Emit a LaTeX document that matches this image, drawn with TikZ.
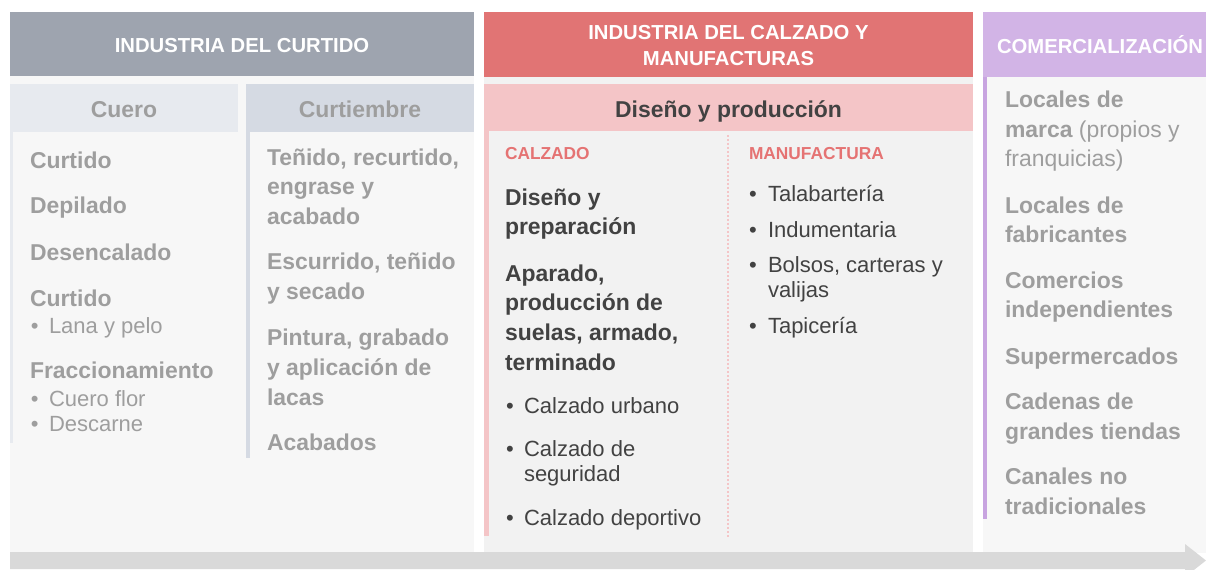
\documentclass[tikz,border=0pt]{standalone}
\usepackage{fontspec}
\setmainfont{Liberation Sans}
\definecolor{hdrgray}{HTML}{9EA4AF}
\definecolor{cuerosub}{HTML}{E7EAEF}
\definecolor{curtsub}{HTML}{D5DAE3}
\definecolor{lightbg}{HTML}{F7F7F7}
\definecolor{midbg}{HTML}{F2F2F2}
\definecolor{redhdr}{HTML}{E17474}
\definecolor{pinksub}{HTML}{F4C5C7}
\definecolor{pinktxt}{HTML}{E57373}
\definecolor{purplehdr}{HTML}{D2B4E6}
\definecolor{purplestrip}{HTML}{C8A4E0}
\definecolor{txtgray}{HTML}{9E9E9E}
\definecolor{txtdark}{HTML}{424242}
\definecolor{arrowgray}{HTML}{D9D9D9}
\tikzset{
  txt/.style={inner sep=0pt, outer sep=0pt},
  hdrtxt/.style={txt, text=white, align=center, anchor=base, font=\fontsize{15.2}{20}\selectfont\bfseries},
  subtxt/.style={txt, anchor=base, font=\fontsize{17.2}{20}\selectfont\bfseries},
  itemg/.style={txt, anchor=base west, align=left, text=txtgray, font=\fontsize{17.2}{22.2}\selectfont\bfseries},
  itemd/.style={txt, anchor=base west, align=left, text=txtdark, font=\fontsize{17.2}{22.2}\selectfont\bfseries},
  bulg/.style={txt, anchor=base west, align=left, text=txtgray, font=\fontsize{16.5}{18.8}\selectfont},
  buld/.style={txt, anchor=base west, align=left, text=txtdark, font=\fontsize{16.5}{18.8}\selectfont},
  lbl/.style={txt, anchor=base west, text=pinktxt, font=\fontsize{13}{15}\selectfont\bfseries},
}
\begin{document}
\begin{tikzpicture}[x=0.75pt,y=-0.75pt]
\useasboundingbox (0,0) rectangle (1206,570);
% panel backgrounds
\fill[lightbg] (10,76) rectangle (474,553);
\fill[midbg] (484,77) rectangle (973,553);
\fill[lightbg] (983,77) rectangle (1206,553);
% headers
\fill[hdrgray] (10,12) rectangle (474,76);
\fill[redhdr] (484,12) rectangle (973,77);
\fill[purplehdr] (983,12) rectangle (1206,77);
\node[hdrtxt] (h1) at (242,52.3) {INDUSTRIA DEL CURTIDO};
\node[hdrtxt] (h2) at (728.5,66) {INDUSTRIA DEL CALZADO Y\\MANUFACTURAS};
\node[hdrtxt, anchor=base west] (h3) at (997,53.3) {COMERCIALIZACIÓN};
% sub headers
\fill[cuerosub] (10,84) rectangle (238,132);
\fill[curtsub] (246,84) rectangle (474,132);
\fill[cuerosub] (10,132) rectangle (13,443);
\fill[curtsub] (246,132) rectangle (250,458);
\node[subtxt, text=txtgray] (s1) at (124,117.3) {Cuero};
\node[subtxt, text=txtgray] (s2) at (360,117.3) {Curtiembre};
\fill[pinksub] (484,84) rectangle (973,131);
\fill[pinksub] (484,131) rectangle (489,536);
\node[subtxt, text=txtdark] (s3) at (728.5,117.3) {Diseño y producción};
\draw[pinksub, line width=0.8pt, dash pattern=on 1.5pt off 1.5pt] (728,135) -- (728,537);
\fill[purplestrip] (983,77) rectangle (987,519);
% left column: Cuero
\node[itemg] (a1) at (30,168.3) {Curtido};
\node[itemg] (a2) at (30,213.3) {Depilado};
\node[itemg] (a3) at (30,260.7) {Desencalado};
\node[itemg] (a4) at (30,306.7) {Curtido};
\node[bulg] (a4b) at (31,333.3) {•};
\node[bulg] (a4t) at (49,333.3) {Lana y pelo};
\node[itemg] (a5) at (30,378.3) {Fraccionamiento};
\node[bulg] (a5b1) at (31,406) {•};
\node[bulg] (a5t1) at (49,406) {Cuero flor};
\node[bulg] (a5b2) at (31,431.7) {•};
\node[bulg] (a5t2) at (49,431.7) {Descarne};
% Curtiembre (anchored at last line baseline)
\node[itemg] (b1) at (267,224.3) {Teñido, recurtido,\\engrase y\\acabado};
\node[itemg] (b2) at (267,299.3) {Escurrido, teñido\\y secado};
\node[itemg] (b3) at (267,405) {Pintura, grabado\\y aplicación de\\lacas};
\node[itemg] (b4) at (267,450.7) {Acabados};
% Calzado
\node[lbl] (l1) at (505,160) {CALZADO};
\node[lbl] (l2) at (749,160) {MANUFACTURA};
\node[itemd] (c1) at (505,235) {Diseño y\\preparación};
\node[itemd] (c2) at (505,370) {Aparado,\\producción de\\suelas, armado,\\terminado};
\node[buld] (c3b) at (506,413.3) {•};
\node[buld] (c3) at (524,413.3) {Calzado urbano};
\node[buld] (c4b) at (506,456.7) {•};
\node[buld] (c4) at (524,481.7) {Calzado de\\seguridad};
\node[buld] (c5b) at (506,525.7) {•};
\node[buld] (c5) at (524,525.7) {Calzado deportivo};
% Manufactura
\node[buld] (m1b) at (749,201.7) {•};
\node[buld] (m1) at (768,201.7) {Talabartería};
\node[buld] (m2b) at (749,237.3) {•};
\node[buld] (m2) at (768,237.3) {Indumentaria};
\node[buld] (m3b) at (749,272.7) {•};
\node[buld] (m3) at (768,297.7) {Bolsos, carteras y\\valijas};
\node[buld] (m4b) at (749,333.3) {•};
\node[buld] (m4) at (768,333.3) {Tapicería};
% Comercializacion
\node[itemg] (r1) at (1005,166.7) {Locales de\\marca {\mdseries (propios y}\\{\mdseries franquicias)}};
\node[itemg] (r2) at (1005,242.7) {Locales de\\fabricantes};
\node[itemg] (r3) at (1005,317.7) {Comercios\\independientes};
\node[itemg] (r4) at (1005,364) {Supermercados};
\node[itemg] (r5) at (1005,439.3) {Cadenas de\\grandes tiendas};
\node[itemg] (r6) at (1005,514.3) {Canales no\\tradicionales};
% bottom arrow
\begin{scope}
\clip (0,0) rectangle (1206,570);
\fill[arrowgray] (10,552) -- (1185,552) -- (1185,544) -- (1206,560.5) -- (1185,577) -- (1185,569) -- (10,569) -- cycle;
\end{scope}
\end{tikzpicture}
\end{document}
